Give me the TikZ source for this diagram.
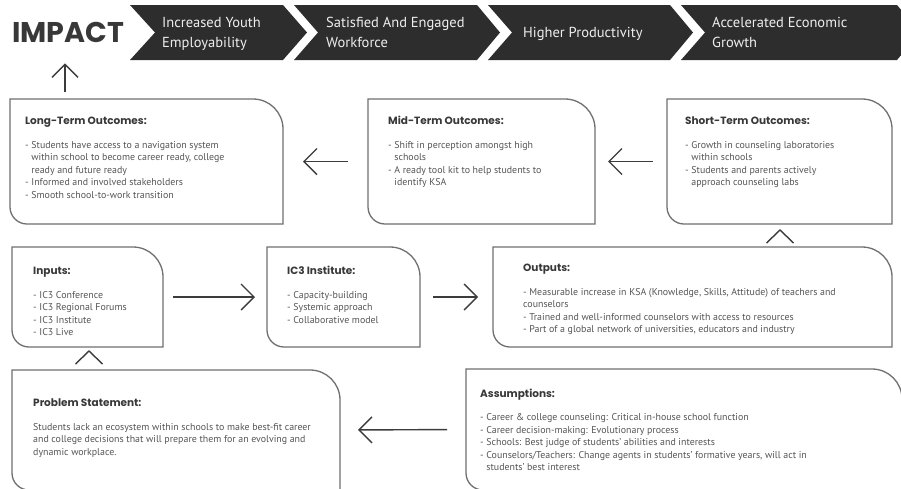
\documentclass[tikz,border=0pt]{standalone}
\usepackage{fontspec}
\setmainfont{PT Sans}
\newfontfamily\headfont{Poppins}
\usetikzlibrary{arrows.meta,calc}
\definecolor{boxgray}{HTML}{707070}
\definecolor{arrgray}{HTML}{3C3C3C}
\definecolor{bodygray}{HTML}{555555}
\definecolor{headgray}{HTML}{383838}
\definecolor{chevfill}{HTML}{2D2D2D}
\definecolor{chevtext}{HTML}{EEEEEE}
\tikzset{
 boxline/.style={draw=boxgray, line width=1.3pt},
 boxnode/.style={inner sep=0pt, outer sep=0pt, anchor=north west},
 headtxt/.style={anchor=base west, inner sep=0pt, text=headgray, font=\headfont\bfseries\fontsize{10.5}{12}\selectfont},
 bodytxt/.style={anchor=base west, inner sep=0pt, text=bodygray, font=\fontsize{9.9}{12.6}\selectfont},
 arr/.style={draw=arrgray, line width=1.4pt, -{Straight Barb[length=13pt,width=26pt]}},
 caretline/.style={draw=arrgray, line width=1.4pt},
 chev/.style={fill=chevfill, draw=none},
 chevtxt/.style={anchor=base west, inner sep=0pt, text=chevtext, font=\fontsize{14.5}{19.5}\selectfont},
}
\newcommand\obox[5]{%
 \node[boxnode, minimum width={(#4-#2)*1pt}, minimum height={(#5-#3)*1pt}] (#1) at (#2,#3) {};
 \draw[boxline] (#2,#3) -- ({#4-30},#3) .. controls ({#4-13.43},#3) and (#4,{#3+13.43}) .. (#4,{#3+30}) -- (#4,#5) -- ({#2+17},#5) .. controls ({#2+7.61},#5) and (#2,{#5-7.61}) .. (#2,{#5-17}) -- cycle;
}
\newcommand\ind{\hphantom{-\ }}
\begin{document}
\begin{tikzpicture}[x=1pt,y=-1pt]
\useasboundingbox (0,0) rectangle (901,488);
\clip (0,0) rectangle (901,488);
\fill[white] (0,0) rectangle (901,488);

% banner
\node[anchor=base west, inner sep=0pt, text=headgray, font=\headfont\bfseries\fontsize{28.5}{30}\selectfont] (impact) at (12,42) {IMPACT};
\fill[chev] (130,5) -- (283,5) -- (307,32.5) -- (283,60) -- (130,60) -- (155,32.5) -- cycle;
\fill[chev] (294,5) -- (477,5) -- (500,32.5) -- (477,60) -- (294,60) -- (318,32.5) -- cycle;
\fill[chev] (488,5) -- (670,5) -- (693,32.5) -- (670,60) -- (488,60) -- (512,32.5) -- cycle;
\fill[chev] (681,5) -- (897,5) -- (920,32.5) -- (897,60) -- (681,60) -- (705,32.5) -- cycle;
\node[chevtxt] (c1) at (162,27.5) {\parbox[t]{140pt}{\raggedright Increased Youth\\Employability}};
\node[chevtxt] (c2) at (326,27.5) {\parbox[t]{170pt}{\raggedright Satisfied And Engaged\\Workforce}};
\node[chevtxt] (c3) at (523,37) {Higher Productivity};
\node[chevtxt] (c4) at (712,27.5) {\parbox[t]{180pt}{\raggedright Accelerated Economic\\Growth}};

% boxes
\obox{longbox}{10}{99}{283}{224}
\obox{midbox}{368}{99}{595}{224}
\obox{shortbox}{667}{99}{892}{224}
\obox{inputsbox}{12}{247}{163}{347}
\obox{icbox}{267}{247}{420}{347}
\obox{outbox}{493}{247}{892}{347}
\obox{probbox}{12}{370}{340}{490}
\obox{assumbox}{466}{369}{902}{490}

% texts
\node[headtxt] (longh) at (25,124) {Long-Term Outcomes:};
\node[bodytxt] (longb) at (25,148) {\parbox[t]{250pt}{\raggedright - Students have access to a navigation system\\\ind within school to become career ready, college\\\ind ready and future ready\\- Informed and involved stakeholders\\- Smooth school-to-work transition}};

\node[headtxt] (midh) at (388,124) {Mid-Term Outcomes:};
\node[bodytxt] (midb) at (388,148) {\parbox[t]{200pt}{\raggedright - Shift in perception amongst high\\\ind schools\\- A ready tool kit to help students to\\\ind identify KSA}};

\node[headtxt] (shorth) at (685,124) {Short-Term Outcomes:};
\node[bodytxt] (shortb) at (685,148) {\parbox[t]{200pt}{\raggedright - Growth in counseling laboratories\\\ind within schools\\- Students and parents actively\\\ind approach counseling labs}};

\node[headtxt] (inh) at (33,274) {Inputs:};
\node[bodytxt] (inb) at (33,298) {\parbox[t]{130pt}{\raggedright - IC3 Conference\\- IC3 Regional Forums\\- IC3 Institute\\- IC3 Live}};

\node[headtxt] (ich) at (287,274) {IC3 Institute:};
\node[bodytxt] (icb) at (287,298) {\parbox[t]{130pt}{\raggedright - Capacity-building\\- Systemic approach\\- Collaborative model}};

\node[headtxt] (outh) at (523,271) {Outputs:};
\node[bodytxt] (outb) at (523,295) {\parbox[t]{360pt}{\raggedright - Measurable increase in KSA (Knowledge, Skills, Attitude) of teachers and\\counselors\\- Trained and well-informed counselors with access to resources\\- Part of a global network of universities, educators and industry}};

\node[headtxt] (probh) at (33,406) {Problem Statement:};
\node[bodytxt] (probb) at (33,430) {\parbox[t]{300pt}{\raggedright Students lack an ecosystem within schools to make best-fit career\\and college decisions that will prepare them for an evolving and\\dynamic workplace.}};

\node[headtxt] (assh) at (480,397) {Assumptions:};
\node[bodytxt] (assb) at (480,420.5) {\parbox[t]{410pt}{\raggedright - Career \& college counseling: Critical in-house school function\\- Career decision-making: Evolutionary process\\- Schools: Best judge of students' abilities and interests\\- Counselors/Teachers: Change agents in students' formative years, will act in\\\ind students' best interest}};

% connectors
\coordinate (upx) at (65,0);
\draw[arr, shorten <=7pt, shorten >=21pt] (longbox.north -| upx) -- (impact.south -| upx);
\draw[arr, shorten <=20pt, shorten >=20pt] (midbox.west) -- (longbox.east);
\draw[arr, shorten <=14pt, shorten >=13pt] (shortbox.west) -- (midbox.east);
\draw[arr, shorten <=10pt, shorten >=12pt] (inputsbox.east) -- (icbox.west);
\draw[arr, shorten <=13pt, shorten >=15pt] (icbox.east) -- (outbox.west);
\draw[arr, shorten <=19pt, shorten >=18pt] (assumbox.west) -- (probbox.east);
% carets
\draw[caretline] (766.5,243) -- (780,230) -- (793.5,243);
\draw[caretline] (75.5,364) -- (89,351) -- (102.5,364);
\end{tikzpicture}
\end{document}
